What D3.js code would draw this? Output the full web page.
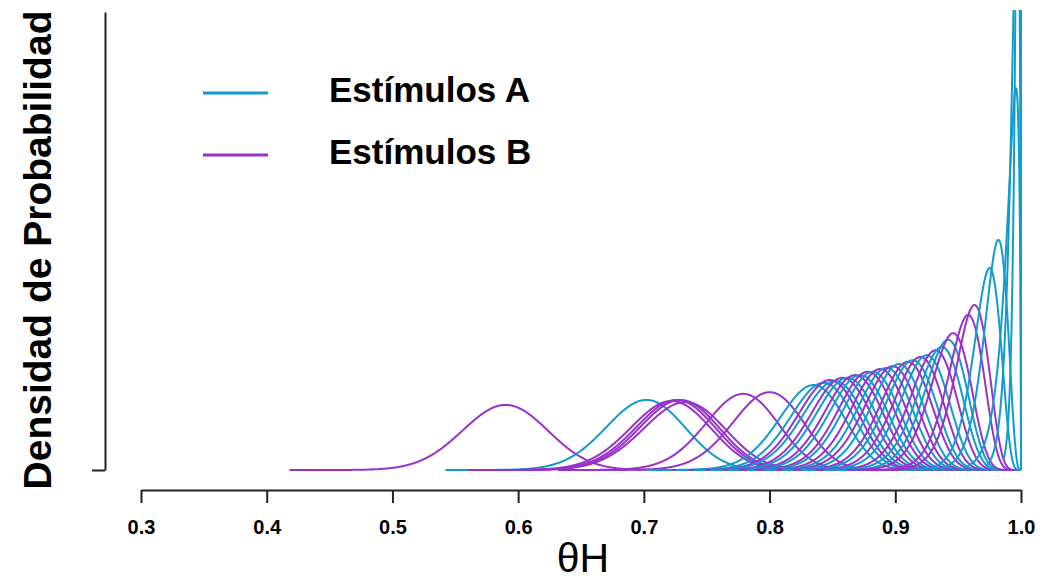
<!DOCTYPE html>
<html>
<head>
<meta charset="utf-8">
<script src="https://cdn.jsdelivr.net/npm/d3@7"></script>
<style>
  body { margin: 0; background: #fff; }
  text { font-family: "Liberation Sans", Arial, sans-serif; }
</style>
</head>
<body>
<script>
// modes and peak heights (density units)
const modesA = [0.702, 0.835, 0.843, 0.852, 0.862, 0.872, 0.882, 0.893, 0.903, 0.914, 0.925, 0.937, 0.942, 0.975, 0.982, 0.996, 0.9972, 0.9993];
const peaksA = [12.7, 15.4, 15.8, 16.1, 16.7, 17.2, 17.8, 18.5, 19.2, 19.9, 20.8, 22.3, 23.6, 36.6, 41.7, 69.2, 110, 250];
const modesB = [0.590, 0.722, 0.726, 0.729, 0.733, 0.779, 0.800, 0.848, 0.858, 0.868, 0.878, 0.888, 0.898, 0.910, 0.920, 0.932, 0.946, 0.958, 0.963];
const peaksB = [11.8, 12.5, 12.7, 12.7, 12.3, 13.8, 14.1, 16.3, 16.7, 17.2, 17.8, 18.3, 18.8, 19.6, 20.5, 21.7, 24.8, 28.1, 29.9];
const xTicks = [0.3, 0.4, 0.5, 0.6, 0.7, 0.8, 0.9, 1.0];
const legendLabels = ["Estímulos A", "Estímulos B"];
const colA = "#109ccd", colB = "#9932cc";

const width = 1043, height = 580;

const xScale = d3.scaleLinear().domain([0.3, 1.0]).range([141, 1021]);
const yScale = d3.scaleLinear().domain([0, 83]).range([470, 12]);

// log gamma (Lanczos)
const lg = [676.5203681218851, -1259.1392167224028, 771.32342877765313,
  -176.61502916214059, 12.507343278686905, -0.13857109526572012,
  9.9843695780195716e-6, 1.5056327351493116e-7];
function lgamma(z) {
  if (z < 0.5) return Math.log(Math.PI / Math.sin(Math.PI * z)) - lgamma(1 - z);
  z -= 1;
  let x = 0.99999999999980993;
  for (let i = 0; i < 8; i++) x += lg[i] / (z + i + 1);
  const t = z + 7.5;
  return 0.5 * Math.log(2 * Math.PI) + (z + 0.5) * Math.log(t) - t + Math.log(x);
}
function lbeta(a, b) { return lgamma(a) + lgamma(b) - lgamma(a + b); }
function dbeta(x, a, b) {
  if (x <= 0 || x >= 1) return 0;
  return Math.exp((a - 1) * Math.log(x) + (b - 1) * Math.log(1 - x) - lbeta(a, b));
}
// beta with given mode whose peak equals the read height
function fitBeta(m, h) {
  let lo = 0, hi = 25;
  for (let i = 0; i < 80; i++) {
    const mid = (lo + hi) / 2, k = Math.exp(mid);
    const a = 1 + m * k, b = 1 + (1 - m) * k;
    if (dbeta(m, a, b) < h) lo = mid; else hi = mid;
  }
  const k = Math.exp((lo + hi) / 2);
  return { a: 1 + m * k, b: 1 + (1 - m) * k };
}

const curves = [];
modesA.forEach((m, i) => curves.push({ m, h: peaksA[i], col: colA }));
modesB.forEach((m, i) => curves.push({ m, h: peaksB[i], col: colB }));
curves.sort((p, q) => p.m - q.m);
curves.forEach(c => {
  const { a, b } = fitBeta(c.m, c.h);
  const sd = Math.sqrt(a * b / ((a + b) * (a + b) * (a + b + 1)));
  const x0 = Math.max(0.001, c.m - 5.1 * sd), x1 = Math.min(1, c.m + 5.5 * sd);
  const n = 3000;
  c.pts = d3.range(n + 1).map(i => {
    const t = i / n;
    const x = x0 + (x1 - x0) * (1 - Math.pow(1 - t, 3));
    return [x, dbeta(x, a, b)];
  });
});

const svg = d3.select("body").append("svg")
  .attr("width", width).attr("height", height);

svg.append("defs").append("clipPath").attr("id", "clip")
  .append("rect").attr("x", 100).attr("y", 10).attr("width", 940).attr("height", 470);

const line = d3.line()
  .x(d => xScale(d[0]))
  .y(d => yScale(d[1]));

svg.append("g").attr("clip-path", "url(#clip)")
  .selectAll("path")
  .data(curves)
  .enter()
  .append("path")
  .attr("fill", "none")
  .attr("stroke", d => d.col)
  .attr("stroke-width", 2)
  .attr("d", d => line(d.pts));

// x axis
const xAxis = svg.append("g")
  .attr("transform", "translate(0,490)")
  .call(d3.axisBottom(xScale).tickValues(xTicks).tickSize(13).tickSizeOuter(0)
    .tickFormat(d3.format(".1f")));
xAxis.select(".domain").attr("stroke", "#222").attr("stroke-width", 2);
xAxis.selectAll(".tick line").attr("stroke", "#222").attr("stroke-width", 2);
xAxis.selectAll(".tick text")
  .attr("y", 30).attr("dy", "0.71em")
  .attr("fill", "#000")
  .style("font-size", "20px").style("font-weight", "bold")
  .style("font-family", "'Liberation Sans', Arial, sans-serif");

// y axis (no labels)
const yAxis = svg.append("g")
  .attr("transform", "translate(105,0)")
  .call(d3.axisLeft(yScale).tickValues([0]).tickSize(13).tickSizeOuter(0).tickFormat(""));
yAxis.select(".domain").attr("stroke", "#222").attr("stroke-width", 2);
yAxis.selectAll(".tick line").attr("stroke", "#222").attr("stroke-width", 2);

svg.append("text")
  .attr("x", 583).attr("y", 572)
  .attr("text-anchor", "middle")
  .style("font-size", "41px")
  .text("θH");

svg.append("text")
  .attr("transform", "translate(51,250) rotate(-90)")
  .attr("text-anchor", "middle")
  .style("font-size", "39px").style("font-weight", "bold")
  .text("Densidad de Probabilidad");

// legend
const legend = svg.append("g");
legendLabels.forEach((lab, i) => {
  const y = 93 + i * 62;
  legend.append("line")
    .attr("x1", 203).attr("x2", 268).attr("y1", y).attr("y2", y)
    .attr("stroke", i === 0 ? colA : colB).attr("stroke-width", 3);
  legend.append("text")
    .attr("x", 329).attr("y", y + 9)
    .style("font-size", "35px").style("font-weight", "bold")
    .text(lab);
});
</script>
</body>
</html>
